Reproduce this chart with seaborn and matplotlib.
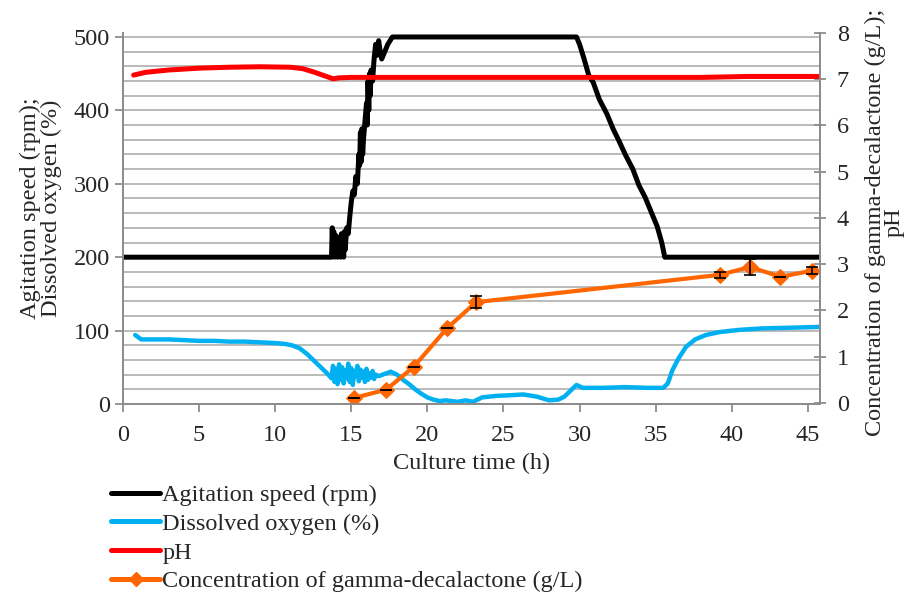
import numpy as np
import pandas as pd
import seaborn as sns
import matplotlib.pyplot as plt
from matplotlib.lines import Line2D

# agitation speed (rpm)
agit_t = [0.0, 13.7, 13.75, 13.8, 13.85, 13.9, 13.95, 14.0, 14.05, 14.1, 14.15, 14.2, 14.25,
          14.3, 14.35, 14.4, 14.45, 14.5, 14.55, 14.6, 14.7, 14.8, 14.9, 15.0, 15.1, 15.2,
          15.3, 15.4, 15.5, 15.55, 15.6, 15.65, 15.7, 15.75, 15.8, 15.9, 16.0, 16.05, 16.1,
          16.15, 16.2, 16.25, 16.3, 16.4, 16.5, 16.6, 16.7, 16.8, 16.9, 17.0, 17.2, 17.4,
          17.7, 18.0, 29.8, 30.0, 30.3, 30.6, 30.9, 31.3, 31.8, 32.2, 32.6, 33.0, 33.5,
          33.9, 34.3, 34.7, 35.1, 35.4, 35.6, 45.8]
agit_v = [200, 200, 240, 205, 235, 200, 230, 202, 228, 200, 226, 203, 220,
          200, 232, 205, 225, 200, 235, 210, 240, 232, 255, 275, 290, 285,
          310, 300, 340, 325, 370, 330, 375, 340, 360, 385, 410, 380, 440,
          400, 450, 420, 455, 440, 470, 490, 475, 495, 480, 470, 480, 490,
          500, 500, 500, 490, 470, 448, 438, 415, 395, 375, 358, 340, 320,
          298, 282, 262, 242, 220, 200, 200]

# dissolved oxygen (%)
do_t = [0.8, 1.2, 2.0, 3.0, 4.0, 5.0, 6.0, 7.0, 8.0, 9.0, 10.0, 10.6, 11.1, 11.6, 12.1, 12.6,
        13.0, 13.4, 13.7, 13.8, 13.9, 14.0, 14.1, 14.2, 14.3, 14.4, 14.5, 14.6, 14.7, 14.8,
        14.9, 15.0, 15.1, 15.2, 15.3, 15.4, 15.5, 15.6, 15.7, 15.8, 15.9, 16.0, 16.1, 16.2,
        16.3, 16.4, 16.5, 16.6, 16.8, 17.2, 17.6, 18.0, 18.4, 18.8, 19.2, 19.6, 20.0, 20.4,
        20.8, 21.2, 21.6, 22.0, 22.5, 23.0, 23.6, 24.5, 25.5, 26.3, 27.2, 28.0, 28.6, 29.0,
        29.4, 29.8, 30.2, 31.5, 33.0, 34.5, 35.5, 35.8, 36.1, 36.5, 37.0, 37.6, 38.3, 39.2,
        40.5, 42.0, 44.0, 45.8]
do_v = [94, 88, 88, 88, 87, 86, 86, 85, 85, 84, 83, 82, 80, 76, 68, 58,
        50, 42, 35, 52, 30, 48, 27, 54, 33, 50, 28, 46, 35, 55, 30,
        49, 26, 45, 38, 52, 31, 47, 36, 44, 30, 48, 33, 42, 36, 45,
        34, 40, 38, 41, 44, 40, 33, 27, 20, 14, 9, 6, 4,
        5, 4, 3, 5, 3, 9, 11, 12, 13, 10, 5, 6, 10,
        18, 26, 22, 22, 23, 22, 22, 28, 46, 62, 78, 88, 94, 98,
        101, 103, 104, 105]

# pH
ph_t = [0.7, 1.5, 3.0, 5.0, 7.0, 9.0, 11.0, 11.8, 12.5, 13.2, 13.8, 14.2, 15.0, 20.0,
        30.0, 38.0, 39.5, 41.0, 45.8]
ph_v = [7.09, 7.15, 7.20, 7.24, 7.26, 7.27, 7.26, 7.23, 7.16, 7.08, 7.01, 7.03, 7.04, 7.04,
        7.04, 7.04, 7.05, 7.06, 7.06]

# gamma-decalactone (g/L)
gdl_t = [15.2, 17.3, 19.1, 21.3, 23.2, 39.2, 41.2, 43.2, 45.3]
gdl_v = [0.11, 0.29, 0.78, 1.62, 2.18, 2.77, 2.94, 2.73, 2.86]
gdl_err = [0.0, 0.0, 0.0, 0.0, 0.13, 0.06, 0.17, 0.0, 0.08]

c_agit = "#000000"
c_do = "#00b0f0"
c_ph = "#ff0000"
c_gdl = "#ff6600"

sns.set_style("white")
plt.rcParams['font.family'] = ['Liberation Serif', 'DejaVu Serif']
fs = 17.5

fig = plt.figure(figsize=(9.12, 5.96), dpi=100)
ax = fig.add_axes([123 / 912, 1 - 404 / 596, 697 / 912, 371 / 596])
ax2 = ax.twinx()

sns.lineplot(x=do_t, y=do_v, ax=ax, color=c_do, lw=3.2, sort=False, estimator=None)
sns.lineplot(x=agit_t, y=agit_v, ax=ax, color=c_agit, lw=3.6, sort=False, estimator=None)
sns.lineplot(x=ph_t, y=ph_v, ax=ax2, color=c_ph, lw=3.6, sort=False, estimator=None)
ax2.errorbar(gdl_t, gdl_v, yerr=gdl_err, fmt='none', ecolor='black', elinewidth=1.2,
             capsize=4, capthick=1.2, zorder=4)
sns.lineplot(x=gdl_t, y=gdl_v, ax=ax2, color=c_gdl, lw=3, marker='D', markersize=8,
             markeredgecolor=c_gdl, sort=False, estimator=None)

ax.set_xlim(0, 45.8)
ax.set_ylim(0, 505.4)
ax2.set_ylim(-0.022, 8)
ax.set_xticks(range(0, 46, 5))
ax.set_yticks(range(0, 501, 100))
ax.set_yticks(range(0, 501, 20), minor=True)
ax2.set_yticks(range(0, 9))

ax.grid(False)
ax2.grid(False)
ax.yaxis.grid(True, which='both', color='#b4b4b4', lw=1.3)
ax.set_axisbelow(True)

for a in (ax, ax2):
    for s in a.spines.values():
        s.set_color('#8c8c8c')
        s.set_linewidth(1.3)
    a.spines['top'].set_visible(False)

ax.tick_params(axis='both', which='major', labelsize=fs, length=6, width=1.3,
               color='#8c8c8c', left=True, bottom=True, direction='out')
ax.tick_params(axis='x', pad=9)
ax.tick_params(axis='y', which='minor', left=False)
ax2.tick_params(axis='y', labelsize=fs, length=8, width=1.3, color='#8c8c8c',
                right=True, direction='inout', pad=8)

ax.set_xlabel("Culture time (h)", fontsize=fs, labelpad=5)
ax.set_ylabel("Agitation speed (rpm);\nDissolved oxygen (%)", fontsize=fs,
              linespacing=0.95)
ax.yaxis.set_label_coords(-0.088, 0.528)
ax2.set_ylabel("Concentration of gamma-decalactone (g/L);\npH", fontsize=fs,
               linespacing=0.85)
ax2.yaxis.set_label_coords(1.064, 0.49)

handles = [
    Line2D([], [], color=c_agit, lw=3.6),
    Line2D([], [], color=c_do, lw=3.6),
    Line2D([], [], color=c_ph, lw=3.6),
    Line2D([], [], color=c_gdl, lw=3.6, marker='D', markersize=7),
]
labels = ["Agitation speed (rpm)", "Dissolved oxygen (%)", "pH",
          "Concentration of gamma-decalactone (g/L)"]
fig.legend(handles, labels, loc='upper left', bbox_to_anchor=(0.122, 1 - 484 / 596),
           frameon=False, fontsize=fs, handlelength=2.0, handletextpad=0.1,
           labelspacing=0.28, borderpad=0, borderaxespad=0)

fig.savefig("out.png", dpi=100)
